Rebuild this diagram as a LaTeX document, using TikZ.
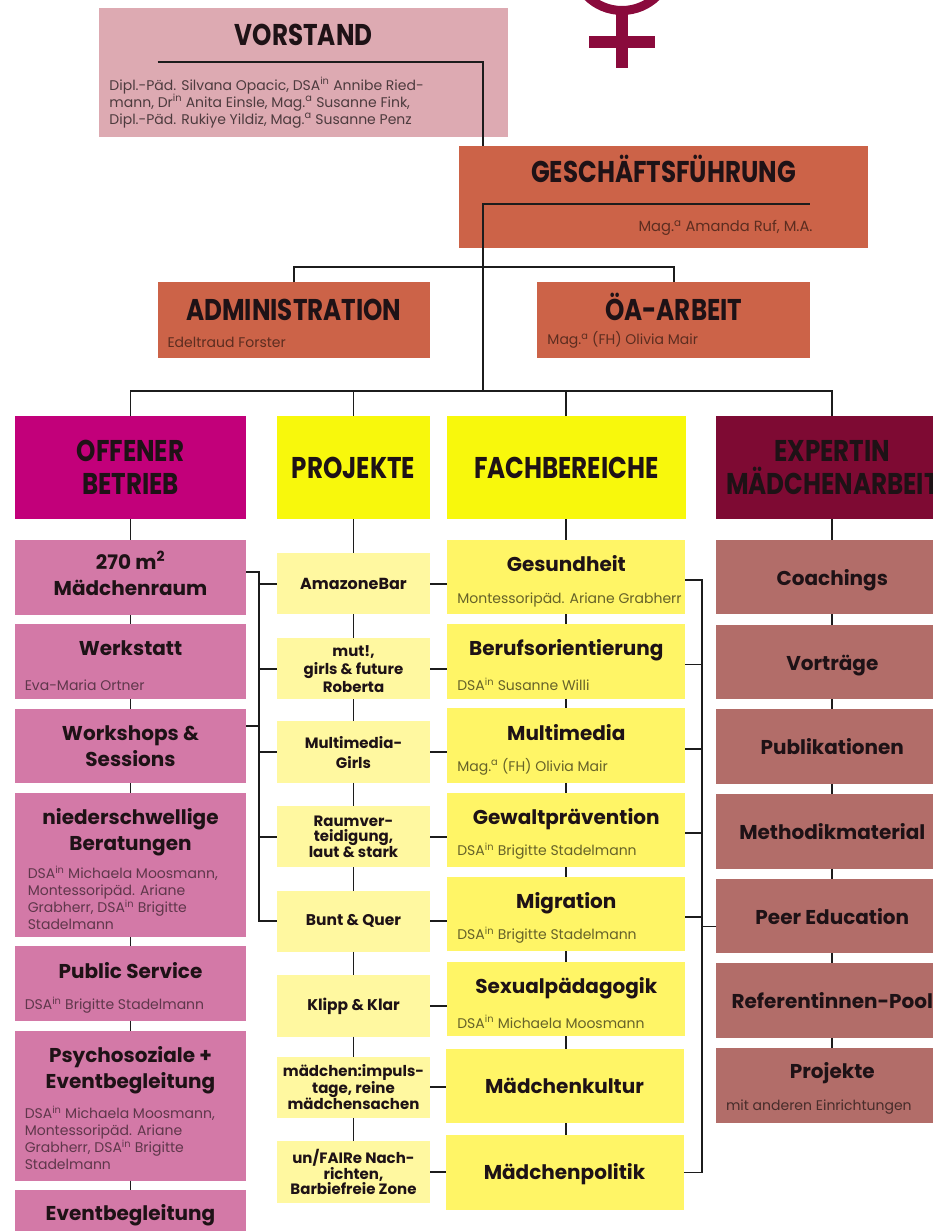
\documentclass[tikz,border=0pt]{standalone}
\usepackage{fontspec}
\setmainfont{Poppins}
\newfontfamily\headfont[FakeStretch=0.82]{Poppins}
\usetikzlibrary{positioning}
\definecolor{venus}{HTML}{8A0A3C}
\definecolor{vorst}{HTML}{DDAAB2}
\definecolor{chef}{HTML}{CC6348}
\definecolor{offen}{HTML}{C2007A}
\definecolor{gelb}{HTML}{F8F80C}
\definecolor{expert}{HTML}{7E0A33}
\definecolor{pinkb}{HTML}{D379A7}
\definecolor{hellb}{HTML}{FFF8A0}
\definecolor{gelbb}{HTML}{FFF566}
\definecolor{roseb}{HTML}{B26D69}
\definecolor{linie}{HTML}{1C1C1C}
\definecolor{tinte}{HTML}{1E1216}
\tikzset{
  box/.style={inner sep=0pt,outer sep=0pt,text=tinte,align=center,font=\bfseries\fontsize{20}{26}\selectfont},
  head/.style={box,font=\headfont\bfseries\fontsize{30}{33}\selectfont},
  pinkbox/.style={box,fill=pinkb,minimum width=231.5pt,minimum height=74.6pt},
  lightbox/.style={box,fill=hellb,minimum width=153pt,minimum height=61.3pt,font=\bfseries\fontsize{15}{18}\selectfont},
  yellowbox/.style={box,fill=gelbb,minimum width=238pt,minimum height=74.5pt,text height=19pt,text depth=4pt},
  rosebox/.style={box,fill=roseb,minimum width=232.6pt,minimum height=74.5pt,text height=21pt,text depth=4.5pt},
  lifted/.style={text depth=#1},
  subtext/.style={inner sep=0pt,outer sep=0pt,align=left,font=\fontsize{14}{17}\selectfont},
  link/.style={draw=linie,line width=1.8pt}
}
\newcommand{\dsa}{DSA\textsuperscript{in}}
\newcommand{\mga}{Mag.\textsuperscript{a}}
\begin{document}
\begin{tikzpicture}[x=1pt,y=-1pt]
\useasboundingbox (0,0) rectangle (933,1231);
% sign
\draw[venus,line width=9pt] (622,-39) circle (49.5);
\fill[venus] (616,10) rectangle (627.5,68);
\fill[venus] (589,36) rectangle (655,48);
% top boxes
\node[head,text height=22pt,lifted=76pt,fill=vorst,minimum width=408.5pt,minimum height=129pt] (V_1) at (303.7,72.5) {VORSTAND};
\node[head,text height=22pt,lifted=51pt,fill=chef,minimum width=409pt,minimum height=101.7pt] (G_1) at (663.5,196.8) {GESCH\"AFTSF\"UHRUNG};
\node[head,text height=22pt,lifted=21pt,fill=chef,minimum width=272.5pt,minimum height=75.4pt] (A_1) at (293.8,320) {ADMINISTRATION};
\node[head,text height=22pt,lifted=21pt,fill=chef,minimum width=272.5pt,minimum height=75.4pt] (A_2) at (673.7,320) {\"OA-ARBEIT};
\node[subtext,text=vorst!35!black,above right=9pt and 10pt of V_1.south west] (V_s) {Dipl.-P\"ad. Silvana Opacic, \dsa{} Annibe Ried-\\mann, Dr\textsuperscript{in} Anita Einsle, \mga{} Susanne Fink,\\Dipl.-P\"ad. Rukiye Yildiz, \mga{} Susanne Penz};
\node[subtext,text=chef!45!black,font=\fontsize{14.7}{17}\selectfont,above left=12pt and 55.5pt of G_1.south east] (G_s) {\mga{} Amanda Ruf, M.A.};
\node[subtext,text=chef!45!black,above right=10pt and 10pt of A_1.south west] (A_s1) {Edeltraud Forster};
\node[subtext,text=chef!45!black,above right=9pt and 10pt of A_2.south west] (A_s2) {\mga{} (FH) Olivia Mair};
% column heads
\node[head,fill=offen,minimum width=231.5pt,minimum height=103pt] (H_1) at (130.5,467.5) {OFFENER\\BETRIEB};
\node[head,text height=22pt,fill=gelb,minimum width=153pt,minimum height=103pt] (H_2) at (353.5,467.5) {PROJEKTE};
\node[head,text height=22pt,fill=gelb,minimum width=239pt,minimum height=103pt] (H_3) at (566.3,467.5) {FACHBEREICHE};
\node[head,fill=expert,text=tinte,minimum width=232.6pt,minimum height=103pt] (H_4) at (832.3,467.5) {EXPERTIN\\M\"ADCHENARBEIT};
% offener betrieb
\node[pinkbox,lifted=8pt] (O_1) at (130.5,577.5) {270 m\textsuperscript{2}\\M\"adchenraum};
\node[pinkbox,lifted=27pt,below=9.6pt of O_1] (O_2) {Werkstatt};
\node[pinkbox,below=9.6pt of O_2] (O_3) {Workshops \&\\Sessions};
\node[pinkbox,minimum height=144pt,lifted=70pt,below=9.6pt of O_3] (O_4) {niederschwellige\\Beratungen};
\node[pinkbox,lifted=27pt,below=9.6pt of O_4] (O_5) {Public Service};
\node[pinkbox,minimum height=150pt,lifted=76pt,below=9.6pt of O_5] (O_6) {Psychosoziale +\\Eventbegleitung};
\node[pinkbox,lifted=30pt,below=9.6pt of O_6] (O_7) {Eventbegleitung};
\node[subtext,text=pinkb!45!black,above right=8pt and 10pt of O_2.south west] (O_s2) {Eva-Maria Ortner};
\node[subtext,text=pinkb!45!black,above right=7pt and 13pt of O_4.south west] (O_s4) {\dsa{} Michaela Moosmann,\\Montessorip\"ad. Ariane\\Grabherr, \dsa{} Brigitte\\Stadelmann};
\node[subtext,text=pinkb!45!black,above right=8pt and 10pt of O_5.south west] (O_s5) {\dsa{} Brigitte Stadelmann};
\node[subtext,text=pinkb!45!black,above right=11pt and 10pt of O_6.south west] (O_s6) {\dsa{} Michaela Moosmann,\\Montessorip\"ad. Ariane\\Grabherr, \dsa{} Brigitte\\Stadelmann};
% projekte
\node[lightbox,font=\bfseries\fontsize{16}{18}\selectfont] (P_1) at (353.5,583.8) {AmazoneBar};
\node[lightbox,below=23.7pt of P_1] (P_2) {mut!,\\girls \& future\\Roberta};
\node[lightbox,below=22pt of P_2,font=\bfseries\fontsize{15}{20}\selectfont] (P_3) {Multimedia-\\Girls};
\node[lightbox,below=23.3pt of P_3,font=\bfseries\fontsize{15}{15.5}\selectfont] (P_4) {Raumver-\\teidigung,\\laut \& stark};
\node[lightbox,below=23.3pt of P_4,font=\bfseries\fontsize{15.5}{18}\selectfont] (P_5) {Bunt \& Quer};
\node[lightbox,below=23.3pt of P_5,font=\bfseries\fontsize{15.5}{18}\selectfont] (P_6) {Klipp \& Klar};
\node[lightbox,below=20pt of P_6,font=\bfseries\fontsize{15}{15.5}\selectfont] (P_7) {m\"adchen:impuls-\\tage, reine\\m\"adchensachen};
\node[lightbox,below=23.5pt of P_7,font=\bfseries\fontsize{15}{15.5}\selectfont] (P_8) {un/FAIRe Nach-\\richten,\\Barbiefreie Zone};
% fachbereiche
\node[yellowbox,lifted=30pt] (F_1) at (566.3,577.2) {Gesundheit};
\node[yellowbox,lifted=30pt,below=9.7pt of F_1] (F_2) {Berufsorientierung};
\node[yellowbox,lifted=30pt,below=9.7pt of F_2] (F_3) {Multimedia};
\node[yellowbox,lifted=30pt,below=9.7pt of F_3] (F_4) {Gewaltpr\"avention};
\node[yellowbox,lifted=30pt,below=9.7pt of F_4] (F_5) {Migration};
\node[yellowbox,lifted=30pt,below=10.5pt of F_5] (F_6) {Sexualp\"adagogik};
\node[yellowbox,below=12.5pt of F_6,xshift=-1.8pt] (F_7) {M\"adchenkultur};
\node[yellowbox,minimum height=75.7pt,below=11.3pt of F_7] (F_8) {M\"adchenpolitik};
\node[subtext,text=gelbb!40!black,above right=7pt and 10pt of F_1.south west] (F_s1) {Montessorip\"ad. Ariane Grabherr};
\node[subtext,text=gelbb!40!black,above right=8pt and 10pt of F_2.south west] (F_s2) {\dsa{} Susanne Willi};
\node[subtext,text=gelbb!40!black,above right=8pt and 10pt of F_3.south west] (F_s3) {\mga{} (FH) Olivia Mair};
\node[subtext,text=gelbb!40!black,above right=8pt and 10pt of F_4.south west] (F_s4) {\dsa{} Brigitte Stadelmann};
\node[subtext,text=gelbb!40!black,above right=8pt and 10pt of F_5.south west] (F_s5) {\dsa{} Brigitte Stadelmann};
\node[subtext,text=gelbb!40!black,above right=8pt and 10pt of F_6.south west] (F_s6) {\dsa{} Michaela Moosmann};
% expertin
\node[rosebox] (E_1) at (832.3,577.2) {Coachings};
\node[rosebox,below=10.2pt of E_1] (E_2) {Vortr\"age};
\node[rosebox,below=10.2pt of E_2] (E_3) {Publikationen};
\node[rosebox,below=10.2pt of E_3] (E_4) {Methodikmaterial};
\node[rosebox,below=10.2pt of E_4] (E_5) {Peer Education};
\node[rosebox,below=10.2pt of E_5] (E_6) {Referentinnen-Pool};
\node[rosebox,lifted=34pt,below=10.2pt of E_6] (E_7) {Projekte};
\node[subtext,text=roseb!40!black,above right=8pt and 10pt of E_7.south west] (E_s7) {mit anderen Einrichtungen};
% connectors
\coordinate (V_r) at (157.7,62);
\coordinate (G_r) at (809.5,204);
\coordinate (trunk) at (483,204);
\coordinate (A_bus) at (483,267);
\coordinate (H_bus) at (483,391);
\coordinate (L_top) at (259,572.3);
\coordinate (L_mid) at (259,726);
\coordinate (R_top) at (701.7,580.3);
\draw[link] (V_r) -- (V_r -| trunk) -- (trunk |- G_1.north);
\draw[link] (G_r) -- (trunk) -- (H_bus);
\draw[link] (A_1.north) -- (A_1.north |- A_bus) -- (A_2.north |- A_bus) -- (A_2.north);
\draw[link] (H_1.north) -- (H_1.north |- H_bus) -- (H_4.north |- H_bus) -- (H_4.north);
\foreach \n in {H_2,H_3}
  \draw[link] (\n.north) -- (\n.north |- H_bus);
\foreach \a/\b in {H_1/O_1,O_1/O_2,O_2/O_3,O_3/O_4,O_4/O_5,O_5/O_6,O_6/O_7,H_2/P_1,P_1/P_2,P_2/P_3,P_3/P_4,P_4/P_5,P_5/P_6,P_6/P_7,P_7/P_8,H_3/F_1,F_1/F_2,F_2/F_3,F_3/F_4,F_4/F_5,F_5/F_6,H_4/E_1,E_1/E_2,E_2/E_3,E_3/E_4,E_4/E_5,E_5/E_6,E_6/E_7}
  \draw[link] (\a.south) -- (\b.north);
\foreach \a/\b in {F_6/F_7,F_7/F_8}
  \draw[link] (F_6.south |- \a.south) -- (F_6.south |- \b.north);
% bracket left
\draw[link] (O_1.east |- L_top) -- (L_top) -- (L_top |- P_5.west) -- (P_5.west);
\draw[link] (O_3.east |- L_mid) -- (L_mid);
\foreach \n in {P_1,P_2,P_3,P_4}
  \draw[link] (L_top |- \n.west) -- (\n.west);
% between projekte and fachbereiche
\foreach \n/\m in {P_1/F_1,P_2/F_2,P_3/F_3,P_4/F_4,P_5/F_5,P_6/F_6,P_7/F_7,P_8/F_8}
  \draw[link] (\n.east) -- (\n.east -| \m.west);
% bracket right
\draw[link] (R_top -| F_1.east) -- (R_top) -- (R_top |- F_8.east) -- (F_8.east);
\foreach \n in {F_2,F_3,F_4,F_5}
  \draw[link] ([yshift=-3pt]\n.east) -- ([yshift=-3pt]\n.east -| R_top);
\draw[link] ([yshift=-10.5pt]E_5.west) -- ([yshift=-10.5pt]E_5.west -| R_top);
\end{tikzpicture}
\end{document}
